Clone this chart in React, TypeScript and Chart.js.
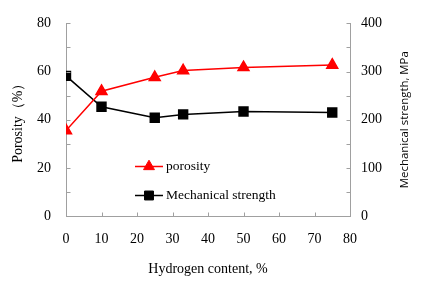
import React, { useEffect, useRef } from 'react';
import { Chart, registerables } from 'chart.js';
import { drawPoint } from 'chart.js/helpers';

Chart.register(...registerables);

const hydrogen = [0, 10, 25, 33, 50, 75];
const porosity = [35.5, 51.8, 57.6, 60.4, 61.7, 62.7];
const strength = [291, 227, 204, 211, 217, 215];

const seriesLabels = ['porosity', 'Mechanical strength'];
const xTitle = 'Hydrogen content, %';
const yLeftTitle = 'Porosity（%）';
const yRightTitle = 'Mechanical strength, MPa';

const SERIF = "'Liberation Serif', 'Times New Roman', serif";
const SANS = "'Open Sans', 'Liberation Sans', sans-serif";
const AXIS_COLOR = '#a0a0a0';

const innerTicks = {
  id: 'innerTicks',
  afterDraw(chart: any) {
    const ctx = chart.ctx;
    const specs: [string, number][] = [['x', 10], ['y', 10], ['y1', 50]];
    ctx.save();
    ctx.strokeStyle = AXIS_COLOR;
    ctx.lineWidth = 1;
    for (const [id, step] of specs) {
      const s = chart.scales[id];
      for (let v = s.min; v <= s.max + 1e-9; v += step) {
        const p = Math.round(s.getPixelForValue(v)) + 0.5;
        ctx.beginPath();
        if (id === 'x') {
          const y = Math.round(s.top) + 0.5;
          ctx.moveTo(p, y);
          ctx.lineTo(p, y - 4);
        } else if (id === 'y') {
          const x = Math.round(s.right) + 0.5;
          ctx.moveTo(x, p);
          ctx.lineTo(x + 4, p);
        } else {
          const x = Math.round(s.left) + 0.5;
          ctx.moveTo(x, p);
          ctx.lineTo(x - 4, p);
        }
        ctx.stroke();
      }
    }
    // right axis title, reading bottom-to-top
    const r = chart.scales.y1;
    ctx.save();
    ctx.translate(405, (r.top + r.bottom) / 2);
    ctx.rotate(-Math.PI / 2);
    ctx.fillStyle = '#000';
    ctx.font = `11.4px ${SANS}`;
    ctx.textAlign = 'center';
    ctx.textBaseline = 'middle';
    ctx.fillText(yRightTitle, 0, 0);
    ctx.restore();
    ctx.restore();
  },
};

const innerLegend = {
  id: 'innerLegend',
  afterDatasetsDraw(chart: any) {
    const ctx = chart.ctx;
    const rows = [166.5, 195.5];
    ctx.save();
    chart.data.datasets.forEach((ds: any, i: number) => {
      const y = rows[i];
      ctx.strokeStyle = ds.borderColor;
      ctx.lineWidth = ds.borderWidth;
      ctx.beginPath();
      ctx.moveTo(135, y);
      ctx.lineTo(163, y);
      ctx.stroke();
      ctx.fillStyle = ds.pointBackgroundColor;
      ctx.strokeStyle = ds.pointBorderColor;
      ctx.lineWidth = 1;
      drawPoint(ctx, { pointStyle: ds.pointStyle, radius: ds.pointRadius, rotation: 0, borderWidth: 1 }, 149, y);
      ctx.fillStyle = '#000';
      ctx.font = `13.5px ${SERIF}`;
      ctx.textBaseline = 'middle';
      ctx.textAlign = 'left';
      ctx.fillText(ds.label, 166, y);
    });
    ctx.restore();
  },
};

export default function App() {
  const ref = useRef<HTMLCanvasElement>(null);
  useEffect(() => {
    document.body.style.margin = '0';
    const chart = new Chart(ref.current!, {
      type: 'line',
      data: {
        datasets: [
          {
            label: seriesLabels[0],
            data: hydrogen.map((x, i) => ({ x, y: porosity[i] })),
            yAxisID: 'y',
            borderColor: '#ff0000',
            backgroundColor: '#ff0000',
            pointBackgroundColor: '#ff0000',
            pointBorderColor: '#ff0000',
            borderWidth: 1.5,
            pointStyle: 'triangle',
            pointRadius: 6.3,
            tension: 0,
          },
          {
            label: seriesLabels[1],
            data: hydrogen.map((x, i) => ({ x, y: strength[i] })),
            yAxisID: 'y1',
            borderColor: '#000000',
            backgroundColor: '#000000',
            pointBackgroundColor: '#000000',
            pointBorderColor: '#000000',
            borderWidth: 1.5,
            pointStyle: 'rect',
            pointRadius: 6.3,
            tension: 0,
          },
        ],
      },
      options: {
        animation: false,
        responsive: false,
        maintainAspectRatio: false,
        layout: { padding: { top: 21.5, left: 0, right: 0, bottom: 0 } },
        plugins: { legend: { display: false }, tooltip: { enabled: false } },
        scales: {
          x: {
            type: 'linear',
            min: 0,
            max: 80,
            afterFit: (s: any) => { s.height = 77; },
            ticks: { stepSize: 10, padding: 15, color: '#000', font: { family: SERIF, size: 14 }, maxRotation: 0 },
            grid: { drawOnChartArea: false, drawTicks: false },
            border: { display: true, color: AXIS_COLOR, width: 1 },
            title: { display: true, text: xTitle, color: '#000', font: { family: SERIF, size: 14 }, padding: { top: 0, bottom: 15 } },
          },
          y: {
            type: 'linear',
            position: 'left',
            min: 0,
            max: 80,
            afterFit: (s: any) => { s.width = 66; },
            ticks: { stepSize: 20, padding: 15, color: '#000', font: { family: SERIF, size: 14 } },
            grid: { drawOnChartArea: false, drawTicks: false },
            border: { display: true, color: AXIS_COLOR, width: 1 },
            title: { display: true, text: yLeftTitle, color: '#000', font: { family: SERIF, size: 14 }, padding: { top: 10, bottom: 0 } },
          },
          y1: {
            type: 'linear',
            position: 'right',
            min: 0,
            max: 400,
            afterFit: (s: any) => { s.width = 77; },
            ticks: { stepSize: 100, padding: 11, color: '#000', font: { family: SERIF, size: 14 } },
            grid: { drawOnChartArea: false, drawTicks: false },
            border: { display: true, color: AXIS_COLOR, width: 1 },
            title: { display: false },
          },
        },
      },
      plugins: [innerTicks, innerLegend],
    });
    return () => chart.destroy();
  }, []);
  return (
    <div style={{ width: 427, height: 293, background: '#fff' }}>
      <canvas ref={ref} width={427} height={293} style={{ display: 'block' }} />
    </div>
  );
}
